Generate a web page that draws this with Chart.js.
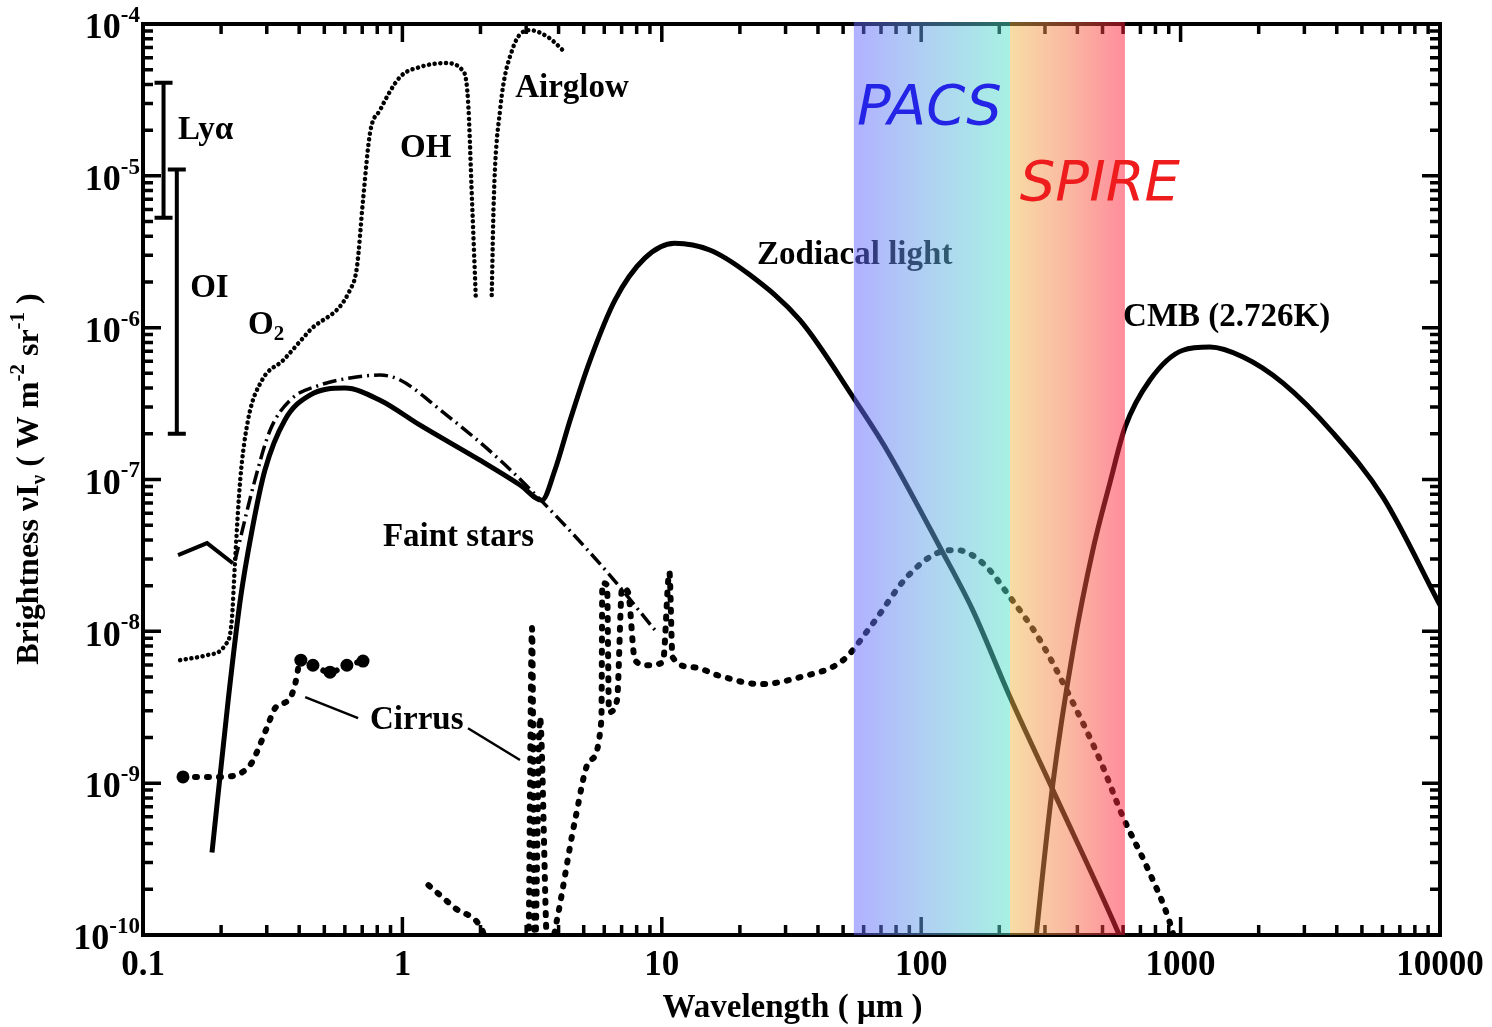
<!DOCTYPE html>
<html>
<head>
<meta charset="utf-8">
<script src="https://cdn.jsdelivr.net/npm/chart.js@4.4.1/dist/chart.umd.min.js"></script>
<style>
  html, body { margin: 0; padding: 0; background: #fff; }
  canvas { display: block; }
</style>
</head>
<body>
<canvas id="sky" width="1492" height="1027"></canvas>
<script>
// wavelength in micron, brightness nu*I_nu in W m-2 sr-1
const zodiX = [0.1845, 0.213, 0.237, 0.263, 0.295, 0.352, 0.44, 0.60, 0.82, 1.17, 1.99, 2.84, 3.45, 3.87, 4.43, 5.29, 6.6, 8.6, 11.2, 15.3, 21.9, 34.1, 55.6, 73.8, 118, 158, 220, 322, 569, 632];
const zodiY = [3.5e-10, 3.52e-9, 1.6e-8, 4.6e-8, 1.15e-7, 2.46e-7, 3.6e-7, 4.0e-7, 3.33e-7, 2.28e-7, 1.34e-7, 9.2e-8, 7.3e-8, 1.15e-7, 2.46e-7, 6.1e-7, 1.52e-6, 2.87e-6, 3.6e-6, 3.25e-6, 2.22e-6, 1.12e-6, 3.33e-7, 1.56e-7, 3.59e-8, 1.38e-8, 3.69e-9, 9.0e-10, 1.08e-10, 7e-11];

const uvX = [0.1365, 0.1766, 0.222];
const uvY = [3.18e-8, 3.81e-8, 2.81e-8];

const starsX = [0.2265, 0.27, 0.309, 0.369, 0.481, 0.628, 0.82, 0.98, 1.40, 2.38, 4.05, 6.31, 9.4];
const starsY = [2.94e-8, 9.9e-8, 2.11e-7, 3.33e-7, 4.19e-7, 4.66e-7, 4.87e-7, 4.52e-7, 2.87e-7, 1.34e-7, 5.4e-8, 2.34e-8, 1.02e-8];

const glowX = [0.139, 0.1766, 0.207, 0.22, 0.2265, 0.237, 0.254, 0.288, 0.347, 0.44, 0.628, 0.668, 0.705, 0.75, 0.82, 0.98, 1.17, 1.46, 1.70, 1.79, 1.855, 1.92, 2.05, 2.21, 2.25, 2.38, 2.65, 3.10, 3.64, 4.24];
const glowY = [6.46e-9, 6.97e-9, 8.1e-9, 1.19e-8, 2.94e-8, 9.9e-8, 2.46e-7, 4.52e-7, 6.1e-7, 9.6e-7, 1.77e-6, 2.51e-6, 6.9e-6, 1.91e-5, 2.71e-5, 4.48e-5, 5.21e-5, 5.53e-5, 4.98e-5, 3.16e-5, 6.9e-6, 1.52e-6, null, 1.64e-6, 6.9e-6, 2.71e-5, 6.74e-5, 9.1e-5, 8.2e-5, 6.5e-5];

const cirrusX = [0.1426, 0.198, 0.237, 0.263, 0.282, 0.301, 0.323, 0.369, 0.385, 0.406, 0.452, 0.526, 0.611, 0.705, 1.0,
  1.26, 1.60, 2.03, 2.2, 3.05, 3.16, 3.24, 3.39, 3.64, 3.94, 4.63, 5.29, 5.85, 5.9, 6.15, 6.26, 6.72, 7.03, 7.41, 7.88, 8.77,
  10.1, 10.7, 11.0, 13.2, 16.8, 23.9, 34.1, 50.0, 65.2, 88.1, 118, 137, 173, 220, 287, 375, 489, 600, 742, 910, 990];
const cirrusY = [1.10e-9, 1.10e-9, 1.16e-9, 1.37e-9, 1.78e-9, 2.34e-9, 3.12e-9, 3.63e-9, 4.42e-9, 6.46e-9, 5.98e-9, 5.38e-9, 5.98e-9, 6.37e-9, null,
  2.13e-10, 1.5e-10, 1.08e-10, 7e-11, 7e-11, 1.05e-8, 7e-11, 2.72e-9, 7e-11, 1.25e-10, 5.7e-10, 1.42e-9, 2.6e-9, 2.08e-8, 2.02e-8, 2.94e-9, 3.52e-9, 1.93e-8, 1.81e-8, 6.46e-9, 5.98e-9,
  6.27e-9, 2.45e-8, 6.76e-9, 5.8e-9, 5.07e-9, 4.49e-9, 4.99e-9, 6.46e-9, 1.13e-8, 2.28e-8, 3.33e-8, 3.43e-8, 2.81e-8, 1.68e-8, 8.75e-9, 3.69e-9, 1.42e-9, 5.97e-10, 2.8e-10, 1.2e-10, 7e-11];

const cmbX = [272, 279, 322, 385, 459, 534, 611, 762, 1021, 1298, 1741, 2483, 3873, 6026, 10000];
const cmbY = [7e-11, 1.08e-10, 1.0e-9, 7.5e-9, 3.43e-8, 9.5e-8, 2.21e-7, 4.52e-7, 7.1e-7, 7.45e-7, 6.4e-7, 4.31e-7, 2.02e-7, 7.66e-8, 1.49e-8];

// Ly-alpha and OI line ranges
const barX = [0.12, 0.135];
const barLow = [5.3e-6, 2.0e-7];
const barHigh = [4.1e-5, 1.1e-5];

// instrument bands (micron)
const bandFrom = [55, 220];
const bandTo = [220, 610];

const xTickLabels = ['0.1', '1', '10', '100', '1000', '10000'];
const yTickExps = [-4, -5, -6, -7, -8, -9, -10];

const serif = '"Liberation Serif", "Times New Roman", serif';

const pts = (xs, ys) => xs.map((x, i) => ({ x: x, y: ys[i] }));

function rich(c, parts, x, y, size, align) {
  const fontFor = p => 'bold ' + ((p.sup || p.sub) ? Math.round(size * 0.65) : size) + 'px ' + serif;
  const widths = parts.map(p => { c.font = fontFor(p); return c.measureText(p.t).width; });
  const total = widths.reduce((s, w) => s + w, 0);
  let cx = align === 'center' ? x - total / 2 : align === 'right' ? x - total : x;
  c.textAlign = 'left';
  c.textBaseline = 'middle';
  parts.forEach((p, i) => {
    c.font = fontFor(p);
    const dy = p.sup ? -size * 0.36 : p.sub ? size * 0.3 : 0;
    c.fillText(p.t, cx, y + dy);
    cx += widths[i];
  });
}

const notes = [
  { parts: [{ t: 'Lyα' }], x: 0.1365, y: 2.0e-5 },
  { parts: [{ t: 'OI' }], x: 0.152, y: 1.82e-6 },
  { parts: [{ t: 'O' }, { t: '2', sub: true }], x: 0.254, y: 1.04e-6 },
  { parts: [{ t: 'OH' }], x: 1.23, y: 1.52e-5, align: 'center' },
  { parts: [{ t: 'Airglow' }], x: 2.72, y: 3.79e-5 },
  { parts: [{ t: 'Zodiacal light' }], x: 23.3, y: 3.0e-6 },
  { parts: [{ t: 'Faint stars' }], x: 0.841, y: 4.18e-8 },
  { parts: [{ t: 'Cirrus' }], x: 0.75, y: 2.6e-9 },
  { parts: [{ t: 'CMB (2.726K)' }], x: 600, y: 1.16e-6 }
];

// leader lines from the Cirrus label
const pointers = [
  [0.422, 3.69e-9, 0.675, 2.68e-9],
  [1.79, 2.3e-9, 2.84, 1.42e-9]
];

const decorate = {
  id: 'decorate',
  afterDatasetsDraw(chart) {
    const c = chart.ctx, a = chart.chartArea, sx = chart.scales.x, sy = chart.scales.y;
    c.save();
    c.strokeStyle = '#000';
    c.fillStyle = '#000';

    // line ranges
    c.lineWidth = 4;
    barX.forEach((v, i) => {
      const px = sx.getPixelForValue(v);
      const top = sy.getPixelForValue(barHigh[i]);
      const bot = sy.getPixelForValue(barLow[i]);
      c.beginPath();
      c.moveTo(px, top); c.lineTo(px, bot);
      c.moveTo(px - 9, top); c.lineTo(px + 9, top);
      c.moveTo(px - 9, bot); c.lineTo(px + 9, bot);
      c.stroke();
    });

    c.lineWidth = 2.5;
    pointers.forEach(p => {
      c.beginPath();
      c.moveTo(sx.getPixelForValue(p[0]), sy.getPixelForValue(p[1]));
      c.lineTo(sx.getPixelForValue(p[2]), sy.getPixelForValue(p[3]));
      c.stroke();
    });

    // inward ticks on all four sides
    c.lineWidth = 3.5;
    c.beginPath();
    for (let d = -1; d < 4; d++) {
      for (let m = 1; m < 10; m++) {
        const px = sx.getPixelForValue(m * Math.pow(10, d));
        const len = m === 1 ? 18 : 10;
        c.moveTo(px, a.bottom); c.lineTo(px, a.bottom - len);
        c.moveTo(px, a.top); c.lineTo(px, a.top + len);
      }
    }
    for (let d = -10; d < -4; d++) {
      for (let m = 1; m < 10; m++) {
        const py = sy.getPixelForValue(m * Math.pow(10, d));
        const len = m === 1 ? 18 : 10;
        c.moveTo(a.left, py); c.lineTo(a.left + len, py);
        c.moveTo(a.right, py); c.lineTo(a.right - len, py);
      }
    }
    c.stroke();
    c.lineWidth = 4;
    c.strokeRect(a.left, a.top, a.right - a.left, a.bottom - a.top);

    notes.forEach(n => {
      rich(c, n.parts, sx.getPixelForValue(n.x), sy.getPixelForValue(n.y), 33, n.align || 'left');
    });

    // PACS / SPIRE bands laid over the plot
    const stops = [
      ['rgba(100,100,255,0.5)', 'rgba(96,168,228,0.5)', 'rgba(80,226,200,0.5)'],
      ['rgba(240,186,74,0.5)', 'rgba(244,116,70,0.5)', 'rgba(255,26,58,0.5)']
    ];
    bandFrom.forEach((v, i) => {
      const x0 = sx.getPixelForValue(v), x1 = sx.getPixelForValue(bandTo[i]);
      const g = c.createLinearGradient(x0, 0, x1, 0);
      g.addColorStop(0, stops[i][0]);
      g.addColorStop(0.5, stops[i][1]);
      g.addColorStop(1, stops[i][2]);
      c.fillStyle = g;
      c.fillRect(x0, a.top - 2, x1 - x0, a.bottom - a.top + 2);
    });

    c.font = 'italic 56px "DejaVu Sans", sans-serif';
    c.textAlign = 'left';
    c.textBaseline = 'middle';
    c.fillStyle = '#2424e6';
    c.fillText('PACS', sx.getPixelForValue(56.5), sy.getPixelForValue(2.75e-5));
    c.fillStyle = '#ee1c1c';
    c.fillText('SPIRE', sx.getPixelForValue(240), sy.getPixelForValue(8.6e-6));

    // tick labels and axis titles
    c.fillStyle = '#000';
    yTickExps.forEach(e => {
      rich(c, [{ t: '10' }, { t: String(e), sup: true }], a.left - 3, sy.getPixelForValue(Math.pow(10, e)) + 5, 36, 'right');
    });
    xTickLabels.forEach(t => {
      rich(c, [{ t: t }], sx.getPixelForValue(parseFloat(t)), a.bottom + 31, 35, 'center');
    });
    rich(c, [{ t: 'Wavelength ( μm )' }], (a.left + a.right) / 2 + 1, a.bottom + 73, 33, 'center');

    c.translate(30, 479);
    c.rotate(-Math.PI / 2);
    rich(c, [{ t: 'Brightness νI' }, { t: 'ν', sub: true }, { t: ' ( W m' }, { t: '-2', sup: true },
      { t: ' sr' }, { t: '-1', sup: true }, { t: ' )' }], 0, 0, 32, 'center');
    c.restore();
  }
};

const solid = { borderColor: '#000', pointRadius: 0, fill: false, cubicInterpolationMode: 'monotone' };

new Chart(document.getElementById('sky'), {
  type: 'line',
  data: {
    datasets: [
      Object.assign({ label: 'Zodiacal light', data: pts(zodiX, zodiY), borderWidth: 5 }, solid),
      Object.assign({ label: 'UV', data: pts(uvX, uvY), borderWidth: 4 }, solid, { cubicInterpolationMode: 'default' }),
      Object.assign({ label: 'Faint stars', data: pts(starsX, starsY), borderWidth: 3.5, borderDash: [14, 5, 2, 5] }, solid),
      Object.assign({ label: 'Airglow', data: pts(glowX, glowY), borderWidth: 4.5, borderDash: [0.1, 5.6], borderCapStyle: 'round' }, solid),
      Object.assign({}, solid, {
        label: 'Cirrus', data: pts(cirrusX, cirrusY), borderWidth: 6, borderDash: [2, 10], borderCapStyle: 'round',
        pointRadius: cirrusX.map((v, i) => cirrusY[i] !== null && (v < 0.15 || (v > 0.4 && v < 0.75)) ? 6.5 : 0),
        pointBackgroundColor: '#000', pointBorderWidth: 0
      }),
      Object.assign({ label: 'CMB', data: pts(cmbX, cmbY), borderWidth: 5 }, solid)
    ]
  },
  options: {
    responsive: false,
    animation: false,
    devicePixelRatio: 1,
    spanGaps: false,
    layout: { padding: { left: 143, right: 52, top: 24, bottom: 92 } },
    plugins: { legend: { display: false }, tooltip: { enabled: false } },
    scales: {
      x: { type: 'logarithmic', min: 0.1, max: 10000, display: false },
      y: { type: 'logarithmic', min: 1e-10, max: 1e-4, display: false }
    }
  },
  plugins: [decorate]
});
</script>
</body>
</html>
